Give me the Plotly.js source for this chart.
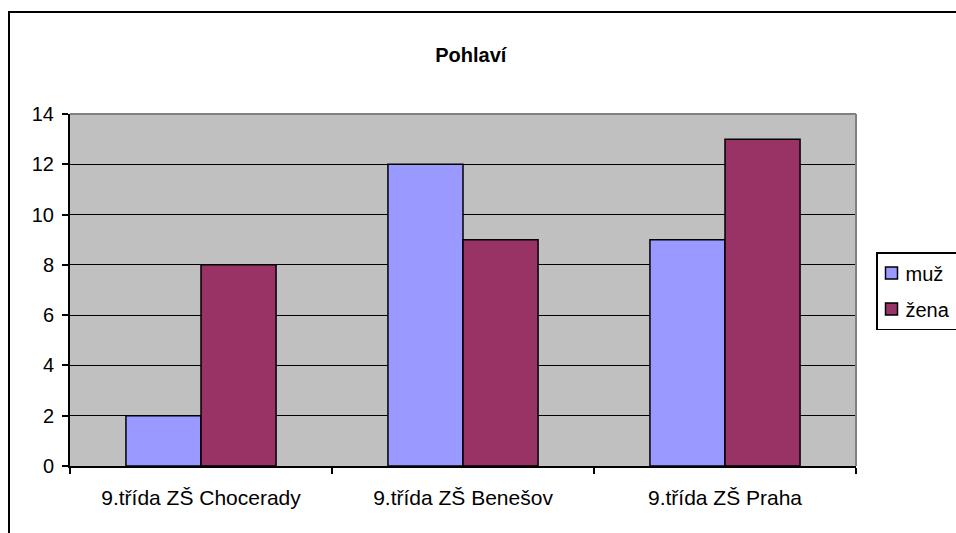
<!DOCTYPE html>
<html>
<head>
<meta charset="utf-8">
<script src="https://cdn.plot.ly/plotly-3.0.1.min.js"></script>
<style>html,body{margin:0;padding:0;background:#fff;}#chart{width:956px;height:533px;}</style>
</head>
<body>
<div id="chart"></div>
<script>
const categories = ["9.třída ZŠ Chocerady", "9.třída ZŠ Benešov", "9.třída ZŠ Praha"];
const seriesNames = ["muž", "žena"];
const muz = [2, 12, 9];
const zena = [8, 9, 13];
const yTicks = [0, 2, 4, 6, 8, 10, 12, 14];
const titleText = "Pohlaví";

const FONT = '"Liberation Sans", Arial, sans-serif';
const W = 956, H = 533;
const L = 70, R = 856, T = 114, B = 466;
const pw = R - L, ph = B - T;
const px = x => (x - L) / pw;
const py = y => (B - y) / ph;

const traces = [
  {type: 'bar', name: seriesNames[0], x: categories, y: muz, legendgroup: 'a',
   marker: {color: '#9999FF', line: {color: '#000000', width: 1.5}}},
  {type: 'bar', name: seriesNames[1], x: categories, y: zena, legendgroup: 'b',
   marker: {color: '#993366', line: {color: '#000000', width: 1.5}}}
];

const layout = {
  width: W, height: H,
  margin: {l: L, r: W - R, t: T, b: H - B, autoexpand: false},
  paper_bgcolor: '#ffffff',
  plot_bgcolor: '#C0C0C0',
  font: {family: FONT, size: 20, color: '#000000'},
  title: {text: '<b>' + titleText + '</b>', font: {family: FONT, size: 20, color: '#000'},
          x: 487.5 / W, xanchor: 'center', xref: 'paper', y: 1 - 55 / H, yanchor: 'middle', yref: 'container'},
  barmode: 'group',
  bargap: 0.427,
  bargroupgap: 0,
  showlegend: true,
  legend: {x: px(876), y: py(252), xanchor: 'left', yanchor: 'top',
           bordercolor: '#000000', borderwidth: 1.5, bgcolor: '#ffffff',
           font: {family: FONT, size: 20, color: '#000'},
           traceorder: 'grouped', tracegroupgap: 7, itemwidth: 30},
  xaxis: {type: 'category', showgrid: false, showline: true, linecolor: '#000', linewidth: 2,
          ticks: 'outside', tickson: 'boundaries', ticklen: 6, tickwidth: 2, tickcolor: '#000',
          ticklabelstandoff: 12, tickfont: {family: FONT, size: 21, color: '#000'}, zeroline: false,
          fixedrange: true},
  yaxis: {range: [0, 14], tickvals: yTicks, showgrid: true, gridcolor: '#000000', gridwidth: 1,
          showline: true, linecolor: '#000', linewidth: 2, ticks: 'outside', ticklen: 6, tickwidth: 2,
          tickcolor: '#000', ticklabelstandoff: 4, tickfont: {family: FONT, size: 20, color: '#000'},
          zeroline: false, fixedrange: true},
  shapes: [
    {type: 'line', xref: 'paper', yref: 'paper', x0: 0, x1: 1, y0: 1, y1: 1,
     line: {color: '#808080', width: 2}, layer: 'above'},
    {type: 'line', xref: 'paper', yref: 'paper', x0: 1, x1: 1, y0: 0, y1: 1,
     line: {color: '#808080', width: 2}, layer: 'above'},
    {type: 'rect', xref: 'paper', yref: 'paper', x0: px(9), x1: px(1000), y0: py(12), y1: py(600),
     line: {color: '#000000', width: 2}, fillcolor: 'rgba(0,0,0,0)', layer: 'above'}
  ]
};

Plotly.newPlot('chart', traces, layout, {displayModeBar: false, staticPlot: true}).then(gd => {
  // tighten legend item spacing like the reference (icon closer to the box edge, text closer to icon)
  gd.querySelectorAll('.legend .traces').forEach(tr => {
    const pts = tr.querySelector('.legendpoints');
    if (pts) pts.setAttribute('transform', 'translate(-6,0)');
    const txt = tr.querySelector('text.legendtext');
    if (txt) {
      const x = parseFloat(txt.getAttribute('x') || '0');
      txt.setAttribute('x', x - 12);
    }
  });
});
</script>
</body>
</html>
